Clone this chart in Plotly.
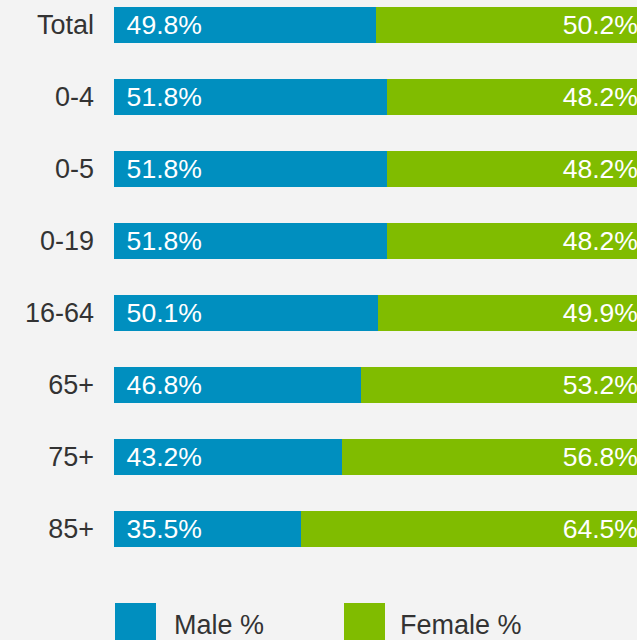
import plotly.graph_objects as go

groups = ['Total', '0-4', '0-5', '0-19', '16-64', '65+', '75+', '85+']
male = [49.8, 51.8, 51.8, 51.8, 50.1, 46.8, 43.2, 35.5]
female = [50.2, 48.2, 48.2, 48.2, 49.9, 53.2, 56.8, 64.5]

BLUE = '#008fbf'
GREEN = '#80bc00'
BG = '#f3f3f3'
FONT = 'Liberation Sans, Arial, sans-serif'

W, H = 641, 640
L, B = 114, 65
plot_w, plot_h = W - L, H - B


def px_x(px):
    return (px - L) / plot_w


def px_y(py):
    return (plot_h - py) / plot_h


fig = go.Figure()
fig.add_trace(go.Bar(
    y=groups, x=male, orientation='h', name='Male %',
    marker=dict(color=BLUE, line=dict(width=0)),
    text=['\u00a0\u200a%.1f%%' % v for v in male],
    textposition='inside', insidetextanchor='start',
    textfont=dict(color='white', size=31, family=FONT),
    hoverinfo='skip'
))
fig.add_trace(go.Bar(
    y=groups, x=female, orientation='h', name='Female %',
    marker=dict(color=GREEN, line=dict(width=0)),
    text=['%.1f%%' % v for v in female],
    textposition='inside', insidetextanchor='end',
    textfont=dict(color='white', size=31, family=FONT),
    hoverinfo='skip'
))

# custom legend with large swatches
for name, color, sx, tx in [('Male %', BLUE, 115, 172), ('Female %', GREEN, 344, 398)]:
    fig.add_shape(type='rect', xref='paper', yref='paper',
                  x0=px_x(sx), x1=px_x(sx + 41), y0=px_y(603), y1=px_y(645),
                  fillcolor=color, line=dict(width=0))
    fig.add_annotation(text=name, xref='paper', yref='paper',
                       x=px_x(tx), y=px_y(625), xanchor='left', yanchor='middle',
                       showarrow=False, font=dict(size=27, color='#333333', family=FONT))

fig.update_layout(
    width=W, height=H,
    barmode='stack', bargap=0.5,
    showlegend=False,
    paper_bgcolor=BG, plot_bgcolor=BG,
    margin=dict(l=L, r=0, t=0, b=B),
    uniformtext=dict(mode=False),
)
fig.update_xaxes(range=[0, 100], visible=False, fixedrange=True)
fig.update_yaxes(
    type='category', categoryorder='array', categoryarray=groups,
    range=[(plot_h - 25) / 72, -25 / 72],
    showgrid=False, zeroline=False, showline=False, ticks='',
    ticklabelstandoff=19, fixedrange=True,
    tickfont=dict(size=27, color='#333333', family=FONT),
)

fig.write_html(
    "out.html",
    config={'displayModeBar': False},
    post_script="document.body.style.margin='0';"
                "document.body.style.overflow='hidden';"
                "document.body.style.background='%s';" % BG,
)
